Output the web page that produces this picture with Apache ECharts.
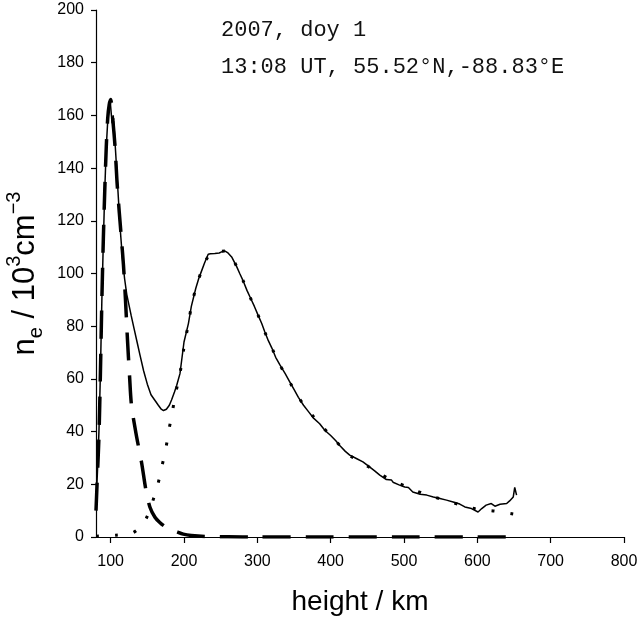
<!DOCTYPE html>
<html>
<head>
<meta charset="utf-8">
<script src="https://cdn.jsdelivr.net/npm/echarts@6/dist/echarts.min.js"></script>
<style>
  html, body { margin: 0; padding: 0; background: #fff; }
  #chart { width: 639px; height: 620px; }
</style>
</head>
<body>
<div id="chart"></div>
<script>
// measured profile (solid)
var obsHeight = [80, 82, 84, 86, 88, 90, 92, 94, 96, 98, 99.5, 101, 102, 103.5, 105, 107, 110, 113, 116, 119, 122, 125, 128, 132, 136, 140, 145, 150, 155, 160, 165, 169, 172, 176, 180, 183, 187, 190, 194.5, 200, 206, 210, 216, 220, 224, 228, 233, 236, 242, 248, 252, 256, 260, 265, 272, 276, 281, 286, 291, 296, 301, 306, 310, 315, 320, 325, 331, 338, 344, 350, 356, 363, 370, 377, 385, 392, 400, 407, 413, 420, 426, 435, 444, 453, 460, 467, 476, 483, 485, 494, 501, 506, 512, 522, 531, 540, 549, 558, 567, 576, 583, 592, 601, 606, 612, 619, 624, 631, 640, 644, 649, 651, 653.5];
var obsDens = [12, 25, 40, 62, 90, 112, 132, 148, 158, 163, 165, 160, 157, 160, 154, 145, 131, 117, 106, 98, 92, 88, 84, 79, 74, 69, 63, 58, 54, 52, 50, 48.5, 48, 48.5, 50, 52, 55, 57.5, 62, 74, 81, 87.5, 94.3, 98, 101, 104, 107.3, 107.5, 107.6, 107.8, 108.3, 108.5, 107.8, 106.3, 102.5, 100, 97, 93.5, 90.5, 87.5, 84.2, 81, 78, 74.5, 71.6, 68.2, 65.2, 62, 59, 56, 53, 50, 47.5, 45, 43, 40.5, 38.5, 36.5, 34.5, 32.5, 31.1, 29.8, 28.5, 26.6, 25.1, 23.5, 21.8, 21.6, 20.8, 19.7, 19, 18.8, 17.1, 16.2, 15.9, 15.2, 14.6, 14, 13.3, 12.5, 11.4, 10.8, 9.5, 10.8, 12.1, 12.7, 11.7, 12.4, 12.7, 13.7, 15.2, 18.8, 15.9];

// E layer fit (dashed)
var eHeight = [80, 82, 84, 86, 88, 90, 92, 94, 96, 98, 100, 103, 106, 108.6, 111.8, 114.8, 117.5, 120.2, 122.9, 125.7, 128.4, 134.5, 142.3, 148.1, 153.6, 160.4, 167, 174, 181, 190, 199, 210, 230, 260, 300, 400, 500, 600, 653];
var eDens = [10, 24, 38, 62, 90, 113, 132, 148, 159, 164, 166, 158, 148, 135, 123, 112.7, 103, 90, 75, 61.4, 50, 39.4, 28, 17.8, 11.3, 7.5, 5.5, 4, 3, 2, 1.1, 0.6, 0.2, 0.1, 0, 0, 0, 0, 0];

// F layer fit (dotted)
var fHeight = [80, 107, 131, 148, 164, 169.5, 175, 179, 183.6, 189, 194.5, 200, 206, 210, 216, 224, 233, 242, 256, 265, 272, 281, 291, 301, 310, 320, 331, 344, 356, 380, 400, 426, 444, 463, 483, 506, 531, 553, 578, 601, 625, 650];
var fDens = [0.3, 0.7, 1.7, 6.8, 19.7, 26.4, 33.2, 40, 46.7, 55, 62, 72, 81, 87.4, 94.3, 101, 106.5, 108, 108.5, 106.3, 102.5, 97, 90.5, 84.2, 77.9, 71.6, 65.2, 58.9, 53, 44.5, 38.5, 31, 28, 24.7, 21.6, 18.8, 16, 14.2, 12.1, 10.5, 9.8, 8.7];

var xTicks = [100, 200, 300, 400, 500, 600, 700, 800];
var annotation = ['2007, doy 1', '13:08 UT, 55.52°N,-88.83°E'];

function pairs(xs, ys) {
  var out = [];
  for (var i = 0; i < xs.length; i++) {
    out.push([xs[i], ys[i]]);
  }
  return out;
}

var chart = echarts.init(document.getElementById('chart'));
var font = 'Liberation Sans, Arial, sans-serif';
var mono = '22px "Liberation Mono", "Courier New", monospace';

var option = {
  animation: false,
  backgroundColor: '#fff',
  grid: { left: 96, right: 15, top: 10, bottom: 83, outerBoundsMode: 'none', containLabel: false },
  xAxis: {
    type: 'value',
    min: 80,
    max: 800,
    name: 'height / km',
    nameLocation: 'middle',
    nameGap: 51,
    nameTextStyle: { fontFamily: font, fontSize: 28, color: '#000' },
    axisLine: { lineStyle: { color: '#000', width: 1.2 } },
    axisTick: { show: true, inside: false, length: 6, customValues: xTicks, lineStyle: { color: '#000', width: 1.2 } },
    axisLabel: { customValues: xTicks, margin: 17, fontFamily: font, fontSize: 16, color: '#000' },
    splitLine: { show: false }
  },
  yAxis: {
    type: 'value',
    min: 0,
    max: 200,
    interval: 20,
    name: '{n|n}{sub|e}{n| / 10}{sup|3}{n|cm}{sup|−3}',
    nameLocation: 'middle',
    nameGap: 48,
    nameTextStyle: {
      fontFamily: font,
      color: '#000',
      rich: {
        n: { fontFamily: font, fontSize: 31, lineHeight: 42, verticalAlign: 'middle', color: '#000' },
        sup: { fontFamily: font, fontSize: 20, lineHeight: 20, verticalAlign: 'top', color: '#000' },
        sub: { fontFamily: font, fontSize: 20, lineHeight: 20, verticalAlign: 'bottom', color: '#000' }
      }
    },
    axisLine: { show: true, lineStyle: { color: '#000', width: 1.2 } },
    axisTick: { show: true, inside: false, length: 5, lineStyle: { color: '#000', width: 1.2 } },
    axisLabel: { margin: 12, fontFamily: font, fontSize: 16, color: '#000' },
    splitLine: { show: false }
  },
  graphic: [
    { type: 'text', left: 221, top: 19, style: { text: annotation[0], font: mono, fill: '#111' } },
    { type: 'text', left: 221, top: 56, style: { text: annotation[1], font: mono, fill: '#111' } }
  ],
  series: [
    {
      name: 'E layer',
      type: 'line',
      data: pairs(eHeight, eDens),
      showSymbol: false,
      smooth: 0.3,
      lineStyle: { color: '#000', width: 3.5, type: [28, 15], cap: 'butt' },
      z: 3
    },
    {
      name: 'F layer',
      type: 'line',
      data: pairs(fHeight, fDens),
      showSymbol: false,
      smooth: 0.3,
      lineStyle: { color: '#000', width: 3, type: [3, 16], cap: 'butt' },
      z: 2
    },
    {
      name: 'measured',
      type: 'line',
      data: pairs(obsHeight, obsDens),
      showSymbol: false,
      lineStyle: { color: '#000', width: 1.5 },
      z: 4
    }
  ]
};
chart.setOption(option);
</script>
</body>
</html>
